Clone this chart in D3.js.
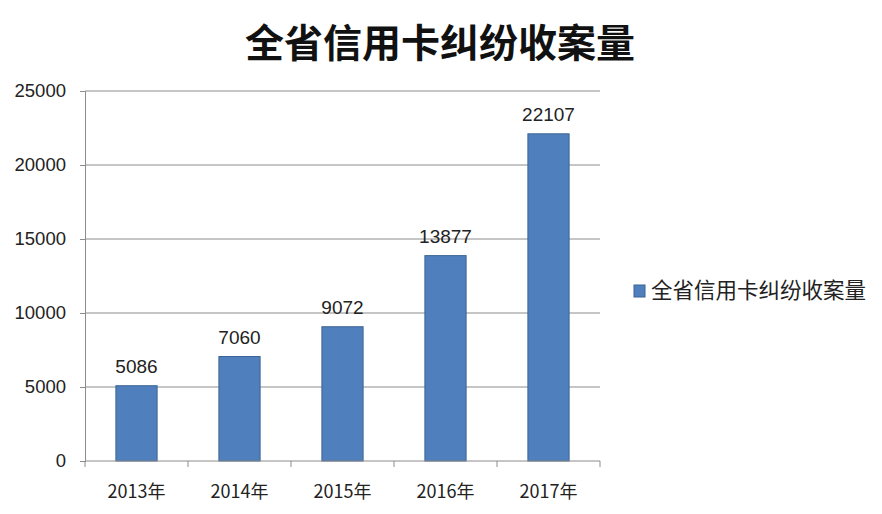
<!DOCTYPE html>
<html>
<head>
<meta charset="utf-8">
<script src="https://cdn.jsdelivr.net/npm/d3@7"></script>
<style>
body { margin: 0; background: #fff; }
text { font-family: "Noto Sans CJK SC", "Liberation Sans", sans-serif; }
</style>
</head>
<body>
<div id="chart"></div>
<script>
// chart data
var years = ['2013年', '2014年', '2015年', '2016年', '2017年'];
var cases = [5086, 7060, 9072, 13877, 22107];
var yTicks = [0, 5000, 10000, 15000, 20000, 25000];
var seriesName = '全省信用卡纠纷收案量';

var width = 882, height = 514;
var plot = { left: 85, right: 600, top: 91, bottom: 461 };

var svg = d3.select('#chart').append('svg')
    .attr('width', width)
    .attr('height', height);

var x = d3.scaleBand()
    .domain(years)
    .range([plot.left, plot.right])
    .paddingInner(0.6)
    .paddingOuter(0.3);

var y = d3.scaleLinear()
    .domain([0, 25000])
    .range([plot.bottom, plot.top]);

// gridlines
svg.append('g')
    .selectAll('line')
    .data(yTicks.slice(1))
    .enter()
    .append('line')
    .attr('x1', plot.left)
    .attr('x2', plot.right)
    .attr('y1', function(d) { return y(d); })
    .attr('y2', function(d) { return y(d); })
    .attr('stroke', '#8c8c8c')
    .attr('stroke-width', 1);

// y axis
var yAxis = svg.append('g')
    .attr('transform', 'translate(' + plot.left + ',0)')
    .call(d3.axisLeft(y).tickValues(yTicks).tickSize(5).tickFormat(d3.format('d')));
yAxis.select('.domain').attr('stroke', '#8c8c8c');
yAxis.selectAll('.tick line').attr('stroke', '#8c8c8c');
yAxis.selectAll('text')
    .attr('x', -19)
    .attr('font-size', 18.5)
    .attr('fill', '#222')
    .style('font-family', 'Liberation Sans, sans-serif');

// bars
svg.append('g')
    .selectAll('rect')
    .data(cases)
    .enter()
    .append('rect')
    .attr('x', function(d, i) { return x(years[i]); })
    .attr('y', function(d) { return y(d); })
    .attr('width', x.bandwidth())
    .attr('height', function(d) { return y(0) - y(d); })
    .attr('fill', '#4f7fbd')
    .attr('stroke', '#3b6494')
    .attr('stroke-width', 1);

// value labels
svg.append('g')
    .selectAll('text')
    .data(cases)
    .enter()
    .append('text')
    .attr('x', function(d, i) { return x(years[i]) + x.bandwidth() / 2; })
    .attr('y', function(d) { return y(d) - 13; })
    .attr('text-anchor', 'middle')
    .attr('font-size', 19)
    .attr('fill', '#222')
    .style('font-family', 'Liberation Sans, sans-serif')
    .text(function(d) { return d; });

// x axis
var step = x.step();
var xAxis = svg.append('g');
xAxis.append('line')
    .attr('x1', plot.left).attr('x2', plot.right)
    .attr('y1', plot.bottom).attr('y2', plot.bottom)
    .attr('stroke', '#8c8c8c');
xAxis.selectAll('line.tk')
    .data(d3.range(years.length + 1))
    .enter()
    .append('line')
    .attr('class', 'tk')
    .attr('x1', function(i) { return plot.left + i * step; })
    .attr('x2', function(i) { return plot.left + i * step; })
    .attr('y1', plot.bottom)
    .attr('y2', plot.bottom + 6)
    .attr('stroke', '#8c8c8c');
xAxis.selectAll('text')
    .data(years)
    .enter()
    .append('text')
    .attr('x', function(d) { return x(d) + x.bandwidth() / 2; })
    .attr('y', 498)
    .attr('text-anchor', 'middle')
    .attr('font-size', 18)
    .attr('fill', '#222')
    .text(function(d) { return d; });

// title
svg.append('text')
    .attr('x', 440)
    .attr('y', 57)
    .attr('text-anchor', 'middle')
    .attr('font-size', 39)
    .attr('font-weight', 'bold')
    .attr('fill', '#111')
    .text(seriesName);

// legend
svg.append('rect')
    .attr('x', 634).attr('y', 285)
    .attr('width', 11).attr('height', 12)
    .attr('fill', '#4f7fbd')
    .attr('stroke', '#3b6494');
svg.append('text')
    .attr('x', 651).attr('y', 298)
    .attr('font-size', 21.5)
    .attr('fill', '#222')
    .text(seriesName);
</script>
</body>
</html>
